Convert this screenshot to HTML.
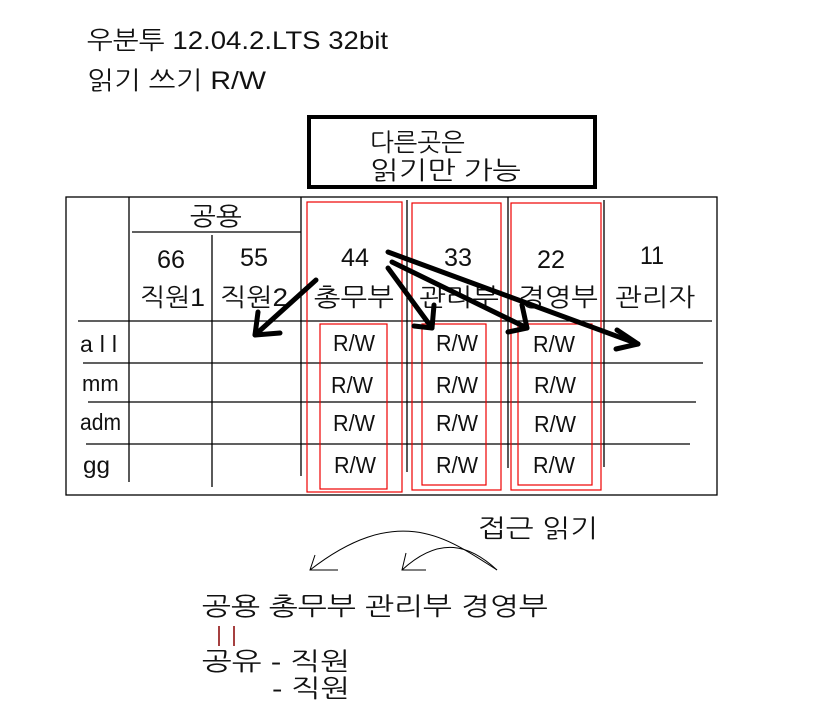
<!DOCTYPE html>
<html><head><meta charset="utf-8"><style>
html,body{margin:0;padding:0;background:#fff;}
svg{display:block;}
text{font-family:"Liberation Sans","NanumGothic","Noto Sans CJK KR",sans-serif;fill:#111;}
</style></head><body>
<svg width="838" height="725" viewBox="0 0 838 725" xmlns="http://www.w3.org/2000/svg">
<text x="87" y="49" font-size="25" textLength="301" lengthAdjust="spacingAndGlyphs">우분투 12.04.2.LTS 32bit</text>
<text x="87" y="89" font-size="25" textLength="179" lengthAdjust="spacingAndGlyphs">읽기 쓰기 R/W</text>
<rect x="309" y="117" width="286" height="70" fill="none" stroke="#000" stroke-width="4"/>
<text x="370" y="151" font-size="25" textLength="95" lengthAdjust="spacingAndGlyphs">다른곳은</text>
<text x="370" y="179" font-size="25" textLength="151" lengthAdjust="spacingAndGlyphs">읽기만 가능</text>
<g stroke="#000" stroke-width="1.3" fill="none">
<rect x="66" y="197" width="651" height="298"/>
<line x1="129" y1="197" x2="129" y2="482"/>
<line x1="132" y1="232" x2="301" y2="232"/>
<line x1="212" y1="235" x2="212" y2="487"/>
<line x1="301" y1="197" x2="301" y2="476"/>
<line x1="78" y1="321" x2="712" y2="321"/>
<line x1="83" y1="363" x2="703" y2="363"/>
<line x1="88" y1="402" x2="696" y2="402"/>
<line x1="86" y1="444" x2="690" y2="444"/>
<line x1="407" y1="200" x2="407" y2="472"/>
<line x1="508" y1="197" x2="508" y2="468"/>
<line x1="604" y1="200" x2="604" y2="467"/>
</g>
<g stroke="#e00" stroke-width="1.2" fill="none">
<rect x="307" y="202" width="95" height="290"/>
<rect x="412" y="203" width="89" height="287"/>
<rect x="511" y="203" width="90" height="287"/>
<rect x="320" y="324" width="67" height="165"/>
<rect x="422" y="324" width="64" height="161"/>
<rect x="518" y="324" width="74" height="161"/>
</g>
<g font-size="25">
<text x="190" y="225" textLength="52" lengthAdjust="spacingAndGlyphs">공용</text>
<text x="157" y="268" textLength="28" lengthAdjust="spacingAndGlyphs">66</text>
<text x="240" y="266" textLength="28" lengthAdjust="spacingAndGlyphs">55</text>
<text x="341" y="266" textLength="28" lengthAdjust="spacingAndGlyphs">44</text>
<text x="444" y="266" textLength="28" lengthAdjust="spacingAndGlyphs">33</text>
<text x="537" y="268" textLength="28" lengthAdjust="spacingAndGlyphs">22</text>
<text x="640" y="264" textLength="24" lengthAdjust="spacingAndGlyphs">11</text>
<text x="140" y="306" textLength="65" lengthAdjust="spacingAndGlyphs">직원1</text>
<text x="220" y="306" textLength="68" lengthAdjust="spacingAndGlyphs">직원2</text>
<text x="314" y="306" textLength="80" lengthAdjust="spacingAndGlyphs">총무부</text>
<text x="419" y="306" textLength="80" lengthAdjust="spacingAndGlyphs">관리부</text>
<text x="518" y="306" textLength="80" lengthAdjust="spacingAndGlyphs">경영부</text>
<text x="615" y="306" textLength="80" lengthAdjust="spacingAndGlyphs">관리자</text>
</g>
<g font-size="23" fill="#112">
<text x="333" y="351" textLength="42" lengthAdjust="spacingAndGlyphs">R/W</text><text x="331" y="393" textLength="42" lengthAdjust="spacingAndGlyphs">R/W</text><text x="333" y="431" textLength="42" lengthAdjust="spacingAndGlyphs">R/W</text><text x="334" y="473" textLength="42" lengthAdjust="spacingAndGlyphs">R/W</text>
<text x="436" y="351" textLength="42" lengthAdjust="spacingAndGlyphs">R/W</text><text x="436" y="393" textLength="42" lengthAdjust="spacingAndGlyphs">R/W</text><text x="436" y="431" textLength="42" lengthAdjust="spacingAndGlyphs">R/W</text><text x="436" y="473" textLength="42" lengthAdjust="spacingAndGlyphs">R/W</text>
<text x="533" y="352" textLength="42" lengthAdjust="spacingAndGlyphs">R/W</text><text x="534" y="393" textLength="42" lengthAdjust="spacingAndGlyphs">R/W</text><text x="534" y="432" textLength="42" lengthAdjust="spacingAndGlyphs">R/W</text><text x="533" y="473" textLength="42" lengthAdjust="spacingAndGlyphs">R/W</text>
</g>
<g font-size="23">
<text x="80" y="352" letter-spacing="7">all</text>
<text x="82" y="391" font-size="22">mm</text>
<text x="80" y="430" textLength="41" lengthAdjust="spacingAndGlyphs">adm</text>
<text x="83" y="473" textLength="27" lengthAdjust="spacingAndGlyphs">gg</text>
</g>
<g stroke="#000" stroke-width="5" fill="none" stroke-linecap="round" stroke-linejoin="round">
<line x1="316" y1="280" x2="255" y2="335"/><polyline points="258,312 255,335 280,333"/>
<line x1="388" y1="268" x2="432" y2="328"/><polyline points="414,326 432,328 434,305"/>
<line x1="392" y1="262" x2="527" y2="328"/><polyline points="508,332 527,328 522,305"/>
<line x1="388" y1="252" x2="638" y2="344"/><polyline points="617,330 638,344 616,349"/>
</g>
<text x="478" y="537" font-size="25" textLength="120" lengthAdjust="spacingAndGlyphs">접근 읽기</text>
<g stroke="#000" stroke-width="1" fill="none">
<path d="M497,570 C450,540 400,500 310,570"/>
<polyline points="315,555 310,570 338,570"/>
<path d="M497,570 C470,545 440,535 402,570"/>
<polyline points="406,553 402,570 426,570"/>
</g>
<g font-size="25">
<text x="202" y="615" textLength="346" lengthAdjust="spacingAndGlyphs">공용 총무부 관리부 경영부</text>
<text x="202" y="670" textLength="148" lengthAdjust="spacingAndGlyphs">공유 - 직원</text>
<text x="272" y="697" textLength="78" lengthAdjust="spacingAndGlyphs">- 직원</text>
</g>
<g stroke="#800" stroke-width="1.5"><line x1="219" y1="626" x2="219" y2="646"/><line x1="234" y1="626" x2="234" y2="646"/></g>
</svg>
</body></html>
